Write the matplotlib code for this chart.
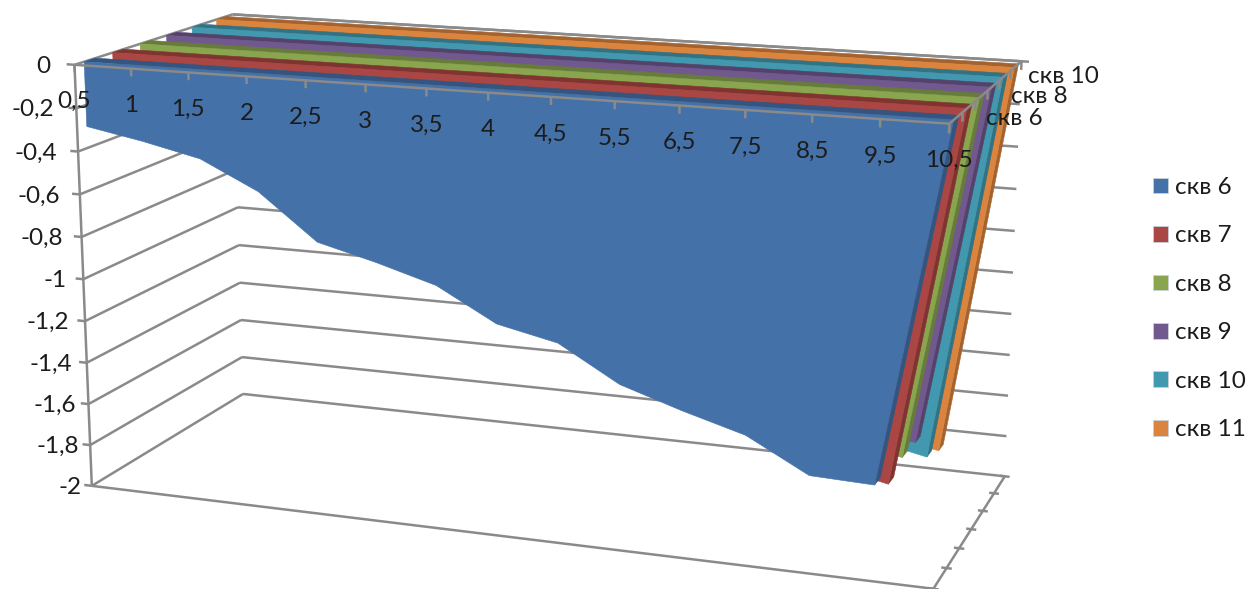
#!/usr/bin/env python3
# 3D area chart (Excel style), wells skv 6 - skv 11
import numpy as np
import matplotlib
matplotlib.use('Agg')
import matplotlib.pyplot as plt
from matplotlib.patches import Polygon, Patch

plt.rcParams['font.family'] = ['Lato', 'DejaVu Sans']

### DATA ######################################################################
categories = ['0,5', '1', '1,5', '2', '2,5', '3', '3,5', '4', '4,5',
              '5,5', '6,5', '7,5', '8,5', '9,5', '10,5']
skv6  = [-0.30, -0.35, -0.41, -0.54, -0.75, -0.82, -0.90, -1.05, -1.11, -1.27, -1.36, -1.44, -1.59, -1.60, 0]
skv7  = [-0.28, -0.33, -0.40, -0.52, -0.72, -0.80, -0.88, -1.02, -1.10, -1.25, -1.35, -1.45, -1.62, -1.68, 0]
skv8  = [-0.26, -0.32, -0.38, -0.50, -0.70, -0.78, -0.86, -1.00, -1.08, -1.22, -1.32, -1.42, -1.58, -1.64, 0]
skv9  = [-0.25, -0.30, -0.37, -0.48, -0.68, -0.76, -0.85, -0.98, -1.06, -1.20, -1.30, -1.40, -1.60, -1.65, 0]
skv10 = [-0.24, -0.30, -0.36, -0.48, -0.68, -0.76, -0.85, -1.00, -1.08, -1.24, -1.36, -1.48, -1.74, -1.80, 0]
skv11 = [-0.22, -0.28, -0.35, -0.46, -0.66, -0.74, -0.84, -0.98, -1.08, -1.24, -1.36, -1.50, -1.80, -1.85, 0]
series_names = ['скв 6', 'скв 7', 'скв 8', 'скв 9', 'скв 10', 'скв 11']
series_vals = [skv6, skv7, skv8, skv9, skv10, skv11]
yticks = [0, -0.2, -0.4, -0.6, -0.8, -1, -1.2, -1.4, -1.6, -1.8, -2]

colors = ['#4471A8', '#AA4643', '#89A54E', '#71588F', '#4198AF', '#DB843D']
darks  = ['#335580', '#803432', '#677C3A', '#55426B', '#317284', '#A4632E']
gray = '#8a8a8a'
txt = '#1c1c1c'

### CAMERA ####################################################################
# box corners (category, depth, value) -> pixel, perspective fitted on them
nc = len(categories) - 1
nd = len(series_names)
world = [(0,0,0), (nc,0,0), (0,nd,0), (nc,nd,0), (0,0,-2), (nc,0,-2), (0,nd,-2), (nc,nd,-2)]
pix = [(75,64), (949,123), (232,15), (1022,62), (92,487), (933,589), (243,393), (1005,476)]

A = []; b = []
for (X,Y,Z),(u,v) in zip(world,pix):
    A.append([X,Y,Z,1,0,0,0,0,-u*X,-u*Y,-u*Z]); b.append(u)
    A.append([0,0,0,0,X,Y,Z,1,-v*X,-v*Y,-v*Z]); b.append(v)
P = np.append(np.linalg.lstsq(np.array(A,float),np.array(b,float),rcond=None)[0],1).reshape(3,4)

def proj(c,d,v):
    q = P @ np.array([c,d,v,1.0])
    return q[0]/q[2], q[1]/q[2]

def line3(ax,p1,p2,z=1,lw=1.8):
    a = proj(*p1); b = proj(*p2)
    ax.plot([a[0],b[0]],[a[1],b[1]],color=gray,linewidth=lw,zorder=z,solid_capstyle='butt')

def face(ax,pts,col,z):
    ax.add_patch(Polygon([proj(*p) for p in pts],closed=True,facecolor=col,edgecolor=col,linewidth=0.4,zorder=z))

### PLOT ######################################################################
fig = plt.figure(figsize=(12.59,5.89),dpi=100)
ax = fig.add_axes([0,0,1,1])
ax.set_xlim(0,1259)
ax.set_ylim(589,0)
ax.axis('off')

# walls
for val in yticks:
    line3(ax,(0,0,val),(0,nd,val))
    line3(ax,(0,nd,val),(nc,nd,val))

# series, back to front
d_front = 0.33; d_back = 0.72
for i in range(nd-1,-1,-1):
    vals = series_vals[i]
    d1 = i+d_front; d2 = i+d_back
    z = 10+(nd-i)*3
    face(ax,[(0,d1,0),(nc,d1,0),(nc,d2,0),(0,d2,0)],darks[i],z)
    face(ax,[(nc,d1,0),(nc,d2,0),(nc-1,d2,vals[-2]),(nc-1,d1,vals[-2])],darks[i],z)
    pts = [(0,d1,0),(nc,d1,0)] + [(c,d1,vals[c]) for c in range(nc,-1,-1)]
    face(ax,pts,colors[i],z+1)

# axes on top
Z = 50
line3(ax,(0,0,0),(nc,0,0),Z)
line3(ax,(nc,0,0),(nc,nd,0),Z)
line3(ax,(0,0,0),(0,0,-2),Z)
line3(ax,(0,0,-2),(nc,0,-2),Z)
line3(ax,(nc,0,-2),(nc,nd,-2),Z)
line3(ax,(0,nd,0),(nc+0.12,nd,0),Z)
for c in range(nc+1):
    line3(ax,(c,0,0),(c,0,-0.035),Z)
for d in range(nd+1):
    line3(ax,(nc,d,0),(nc,d,-0.04),Z)
    line3(ax,(nc-0.08,d,-2),(nc+0.08,d,-2),Z)
for val in yticks:
    line3(ax,(-0.14,0,val),(0,0,val),Z)

# tick labels
fs = 17.5
for c,lab in enumerate(categories):
    x,y = proj(c,0,0)
    ax.text(x,y+37,lab,ha='center',va='center',fontsize=fs,color=txt,zorder=60)
for val in yticks:
    x,y = proj(0,0,val)
    lab = ('%g' % val).replace('.',',')
    ax.text(x-24-val*7,y+1.5,lab,ha='right',va='center',fontsize=fs,color=txt,zorder=60)
for d in [0,2,4]:
    x,y = proj(nc,d+0.5,0)
    ax.text(x+58,y+1,series_names[d],ha='center',va='center',fontsize=fs,color=txt,zorder=60)

# legend
handles = [Patch(facecolor=c,edgecolor='#c8d0dc',linewidth=0.6) for c in colors]
ax.legend(handles,series_names,loc='upper left',bbox_to_anchor=(1153,177),bbox_transform=ax.transData,
          frameon=False,fontsize=fs,handlelength=0.62,handleheight=0.62,handletextpad=0.3,
          labelspacing=1.13,labelcolor=txt,borderpad=0,borderaxespad=0)

plt.savefig('out.png',dpi=100)
